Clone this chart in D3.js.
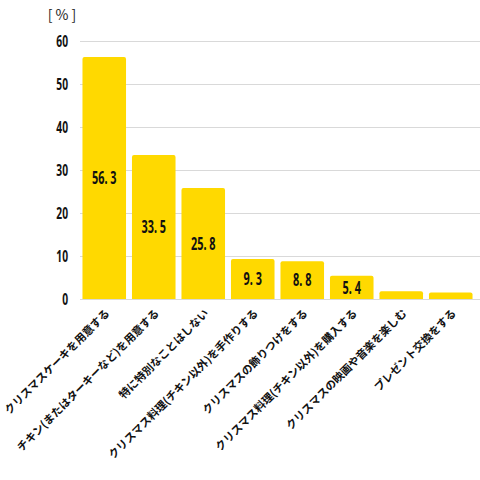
<!DOCTYPE html>
<html lang="ja">
<head>
<meta charset="UTF-8">
<title>クリスマスの過ごし方</title>
<style>
    body { margin: 0; background: #fff; }
    text { font-family: "Noto Sans CJK JP", sans-serif; }
    .num { font-family: "Noto Sans", sans-serif; font-weight: bold; }
    .grid line { stroke: #d9d9d9; stroke-width: 1px; }
</style>
</head>
<body>
<svg width="480" height="480"></svg>
<script src="https://cdnjs.cloudflare.com/ajax/libs/d3/7.8.5/d3.min.js"></script>
<script>
    var categories = [
        "クリスマスケーキを用意する",
        "チキン(またはターキーなど)を用意する",
        "特に特別なことはしない",
        "クリスマス料理(チキン以外)を手作りする",
        "クリスマスの飾りつけをする",
        "クリスマス料理(チキン以外)を購入する",
        "クリスマスの映画や音楽を楽しむ",
        "プレゼント交換をする"
    ];
    var values = [56.3, 33.5, 25.8, 9.3, 8.8, 5.4, 1.8, 1.5];
    var labelled = [true, true, true, true, true, true, false, false];
    var yTicks = [0, 10, 20, 30, 40, 50, 60];

    var svg = d3.select("svg");
    var mLeft = 80, mRight = 475, mTop = 41, mBottom = 299;
    var squeeze = 0.64; // numbers in the picture are a narrow face

    var x = d3.scaleBand()
        .domain(categories)
        .range([mLeft, mRight])
        .paddingInner(0.12)
        .paddingOuter(0.05);

    var y = d3.scaleLinear()
        .domain([0, 60])
        .range([mBottom, mTop]);

    // grid
    svg.append("g")
        .attr("class", "grid")
        .selectAll("line")
        .data(yTicks)
        .enter().append("line")
        .attr("x1", mLeft)
        .attr("x2", 480)
        .attr("y1", function (d) { return y(d) + 0.5; })
        .attr("y2", function (d) { return y(d) + 0.5; });

    // y axis labels
    var yAxis = d3.axisLeft(y).tickValues(yTicks).tickSize(0);
    var ya = svg.append("g")
        .attr("transform", "translate(" + mLeft + ",0)")
        .call(yAxis);
    ya.select(".domain").remove();
    ya.selectAll("text")
        .attr("class", "num")
        .attr("font-size", 16)
        .attr("fill", "#111")
        .attr("x", -12 / squeeze)
        .attr("transform", "scale(" + squeeze + ",1)");

    svg.append("text")
        .attr("x", 62)
        .attr("y", 20)
        .attr("text-anchor", "middle")
        .attr("font-size", 14)
        .attr("fill", "#222")
        .text("[ % ]");

    // bars
    svg.append("g")
        .selectAll("path")
        .data(values)
        .enter().append("path")
        .attr("fill", "#FFD900")
        .attr("d", function (d, i) {
            var x0 = x(categories[i]), w = x.bandwidth();
            var y0 = y(d), y1 = y(0), r = 2;
            return "M" + x0 + "," + y1 + "V" + (y0 + r) + "Q" + x0 + "," + y0 + " " + (x0 + r) + "," + y0 +
                "H" + (x0 + w - r) + "Q" + (x0 + w) + "," + y0 + " " + (x0 + w) + "," + (y0 + r) + "V" + y1 + "Z";
        });

    // value labels
    svg.append("g")
        .selectAll("text")
        .data(values.filter(function (d, i) { return labelled[i]; }))
        .enter().append("text")
        .attr("class", "num")
        .attr("transform", function (d, i) {
            var cx = x(categories[i]) + x.bandwidth() / 2;
            var cy = (y(d) + y(0)) / 2;
            return "translate(" + cx + "," + cy + ") scale(" + squeeze + ",1)";
        })
        .attr("dy", "0.36em")
        .attr("text-anchor", "middle")
        .attr("font-size", 17)
        .attr("fill", "#111")
        .text(function (d) { return d.toFixed(1).replace(".", ". "); });

    // category labels
    svg.append("g")
        .selectAll("text")
        .data(categories)
        .enter().append("text")
        .attr("transform", function (d) {
            return "translate(" + (x(d) + x.bandwidth() / 2 + 6) + "," + 314 + ") rotate(-45)";
        })
        .attr("text-anchor", "end")
        .attr("font-size", 11)
        .attr("font-weight", "bold")
        .attr("fill", "#111")
        .text(function (d) { return d; });
</script>
</body>
</html>
